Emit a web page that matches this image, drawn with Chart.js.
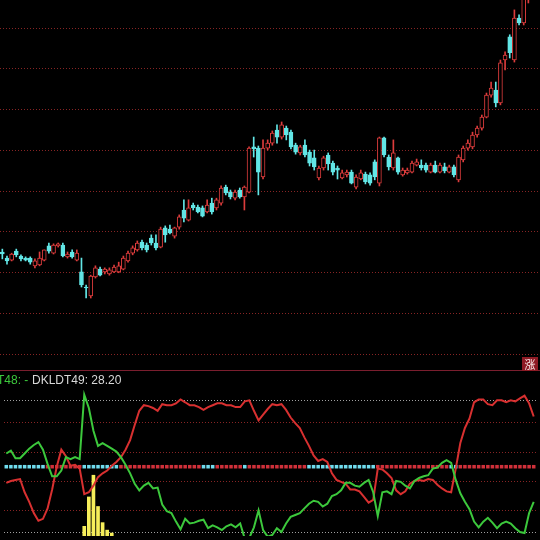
<!DOCTYPE html>
<html lang="zh">
<head>
<meta charset="UTF-8">
<title>K线 + DKLDT</title>
<script src="https://cdn.jsdelivr.net/npm/chart.js"></script>
<style>
    html, body { margin: 0; padding: 0; background: #000; }
    body { width: 540px; height: 540px; position: relative; overflow: hidden; font-family: "Liberation Sans", Arial, sans-serif; }
    #priceChart { position: absolute; left: 0; top: 0; }
    #indChart { position: absolute; left: 0; top: 372px; }
    /* panel separator */
    .sep { position: absolute; left: 0; top: 370px; width: 540px; height: 1px; background: #7a1e2e; }
    .lbl { position: absolute; top: 373px; font-size: 12px; white-space: nowrap; line-height: 14px; }
    .zhang { position: absolute; left: 522px; top: 357px; width: 16px; height: 14px; background: #8e1a24; color: #fff0f0;
             font: 11px "Noto Sans CJK SC", sans-serif; line-height: 14px; text-align: center; }
</style>
</head>
<body>
<canvas id="priceChart" width="540" height="371"></canvas>
<div class="sep"></div>
<div class="zhang">涨</div>
<canvas id="indChart" width="540" height="168"></canvas>
<div class="lbl" style="left:-3px;color:#3cc83c">T48: -</div>
<div class="lbl" style="left:32px;color:#d8d8d8">DKLDT49: 28.20</div>

<script>
// ---- data ----
const days = Array.from({ length: 116 }, (_, i) => 'D' + (i + 1));

const open = [13.51,13.36,13.31,13.53,13.41,13.36,13.36,13.17,13.19,13.31,
    13.66,13.48,13.66,13.68,13.39,13.51,13.31,13.02,12.65,12.43,
    12.90,13.09,13.02,12.97,13.02,13.02,13.09,13.29,13.48,13.56,
    13.75,13.68,13.85,13.73,13.63,14.10,14.07,13.90,14.12,14.54,
    14.29,14.66,14.61,14.59,14.49,14.71,14.59,14.71,15.10,14.98,
    14.83,15.03,14.86,14.98,16.09,16.06,15.35,16.06,16.18,16.50,
    16.33,16.55,16.45,16.13,15.94,16.13,15.96,15.82,15.33,15.57,
    15.89,15.69,15.57,15.33,15.40,15.47,15.10,15.30,15.42,15.40,
    15.72,15.20,16.31,15.84,15.57,15.82,15.40,15.45,15.47,15.64,
    15.64,15.64,15.47,15.64,15.47,15.60,15.47,15.60,15.28,15.77,
    16.06,16.09,16.38,16.55,16.82,17.36,17.48,17.17,18.22,18.79,
    18.22,19.25,19.13,19.75,19.95,20.30];
const high = [13.58,13.41,13.48,13.58,13.44,13.39,13.39,13.34,13.51,13.56,
    13.73,13.71,13.73,13.73,13.51,13.56,13.56,13.36,12.70,12.94,
    13.17,13.14,13.12,13.12,13.19,13.26,13.41,13.53,13.66,13.78,
    13.80,13.73,13.93,13.93,14.12,14.15,14.17,14.12,14.42,14.79,
    14.79,14.71,14.66,14.64,14.79,14.83,14.83,15.13,15.15,15.03,
    15.03,15.08,15.13,16.09,16.33,16.11,16.26,16.26,16.48,16.63,
    16.70,16.60,16.50,16.18,16.13,16.26,16.01,16.01,15.62,15.86,
    15.94,15.74,15.62,15.52,15.52,15.52,15.40,15.52,15.47,15.45,
    15.77,16.33,16.33,15.89,16.26,15.84,15.57,15.57,15.74,15.79,
    15.77,15.69,15.69,15.74,15.69,15.69,15.64,15.64,15.89,16.11,
    16.26,16.45,16.60,16.87,17.41,17.68,17.68,18.22,18.42,18.84,
    19.45,19.33,19.90,20.10,20.40,20.50];
const low = [13.34,13.21,13.29,13.39,13.29,13.29,13.21,13.12,13.17,13.29,
    13.48,13.46,13.63,13.39,13.36,13.36,13.29,12.65,12.38,12.38,
    12.87,12.92,12.97,12.94,13.00,13.00,13.07,13.26,13.44,13.53,
    13.56,13.51,13.68,13.56,13.61,13.75,13.95,13.85,14.07,14.25,
    14.27,14.54,14.47,14.37,14.47,14.44,14.54,14.66,14.91,14.81,
    14.79,14.83,14.54,14.96,15.84,14.91,15.30,16.01,16.13,16.18,
    16.28,16.26,16.04,15.91,15.89,15.84,15.62,15.52,15.28,15.52,
    15.52,15.40,15.30,15.30,15.35,15.18,15.06,15.28,15.18,15.15,
    15.28,15.13,15.84,15.52,15.52,15.42,15.37,15.42,15.45,15.62,
    15.52,15.47,15.45,15.45,15.45,15.45,15.45,15.35,15.23,15.72,
    16.01,16.04,16.33,16.50,16.80,17.31,17.07,17.12,17.98,18.27,
    18.17,19.08,19.08,19.62,19.90,20.00];
const close = [13.46,13.29,13.46,13.44,13.34,13.31,13.26,13.29,13.36,13.56,
    13.53,13.68,13.71,13.41,13.46,13.39,13.48,12.70,12.63,12.92,
    13.12,12.94,13.09,13.07,13.14,13.17,13.36,13.48,13.61,13.73,
    13.61,13.56,13.73,13.61,14.07,13.93,13.98,14.10,14.37,14.34,
    14.59,14.59,14.49,14.39,14.66,14.49,14.79,15.08,14.96,14.86,
    14.98,14.86,15.10,16.06,16.04,15.47,16.06,16.18,16.43,16.33,
    16.63,16.38,16.09,15.96,16.09,15.89,15.69,15.60,15.57,15.82,
    15.67,15.47,15.52,15.45,15.47,15.20,15.35,15.45,15.23,15.20,
    15.35,16.31,15.89,15.60,15.94,15.47,15.52,15.52,15.69,15.72,
    15.57,15.52,15.64,15.47,15.64,15.50,15.60,15.40,15.84,16.06,
    16.18,16.38,16.55,16.82,17.36,17.53,17.17,18.15,18.34,18.40,
    19.25,19.13,19.80,20.00,20.30,20.10];
const priceTicks = [11, 12, 13, 14, 15, 16, 17, 18, 19];

// indicator panel
const redLine = [39.0,40.3,41.0,41.6,32.6,26.1,18.4,13.2,14.5,21.6,
    34.5,50.0,61.6,57.1,50.6,51.3,48.7,31.3,32.6,37.1,
    42.9,45.5,47.4,50.6,53.2,56.5,61.6,68.1,78.4,88.1,
    91.9,91.3,90.0,88.1,92.6,91.9,91.9,93.2,95.8,93.9,
    91.9,91.9,90.6,88.7,90.6,91.9,93.2,93.2,91.9,91.9,
    90.6,90.6,94.5,95.2,88.1,81.6,85.5,89.3,92.6,91.9,
    92.6,88.7,83.5,79.7,76.4,70.0,64.2,57.7,53.9,55.2,
    53.2,45.5,41.0,39.7,38.4,34.5,34.5,33.2,29.4,25.5,
    27.4,48.7,48.1,45.5,42.3,33.9,31.3,33.2,38.4,40.3,
    41.0,40.3,41.6,41.0,37.7,35.2,33.2,32.6,48.7,66.1,
    76.4,82.9,93.9,95.8,95.8,92.6,91.9,95.2,95.2,93.9,
    95.2,94.5,96.5,98.4,93.2,84.2];
const greenLine = [59.0,61.0,55.8,55.8,59.0,62.3,64.8,66.8,61.6,51.9,
    43.5,43.5,47.4,56.5,55.2,56.5,55.2,99.0,90.0,74.5,
    64.2,66.1,64.2,62.3,60.3,56.5,51.3,45.5,38.4,33.9,
    37.1,39.0,35.2,35.8,24.2,19.7,18.4,12.6,7.4,14.5,
    11.3,11.9,13.2,13.9,8.1,10.0,8.7,6.8,9.4,10.7,
    8.7,11.3,1.0,1.6,8.7,20.3,6.8,2.3,3.5,8.1,
    5.5,11.3,15.8,17.1,18.4,21.6,24.8,26.8,26.1,22.9,
    24.8,30.0,31.3,33.9,39.0,39.0,37.1,36.4,39.0,41.0,
    32.6,16.5,32.6,33.2,31.3,40.3,39.7,37.1,35.2,40.3,
    42.3,43.5,44.2,48.7,49.4,52.6,54.5,52.6,41.0,31.9,
    26.1,21.0,12.6,8.7,12.6,15.2,11.9,8.1,11.3,12.6,
    11.3,8.1,5.5,4.8,18.4,26.1];
const barStart = 17;
const yellowBars = [9.4, 29.4, 44.2, 22.9, 11.9, 6.8, 4.8];
// 1 = cyan square, 0 = red square on the middle line
const trendFlag = [1,1,1,1,1,1,1,1,1,0, 0,0,0,0,0,0,0,1,1,1,
    1,1,1,1,1,0,0,0,0,0, 0,0,0,0,0,0,0,0,0,0,
    0,0,0,1,1,1,0,0,0,0, 0,0,1,0,0,0,0,0,0,0,
    0,0,0,0,0,0,1,1,1,1, 1,1,1,1,1,1,1,1,1,1,
    1,0,0,0,0,0,0,0,0,0, 0,0,0,0,0,0,0,1,1,0,
    0,0,0,0,0,0,0,0,0,0, 0,0,0,0,0,0];
const midLevel = 50;
const indTicks = [5, 20, 40, 60, 80, 95];

// ---- colours ----
const UP = '#dc3c3c', DOWN = '#62e6e6';
const GRID_RED = 'rgba(150,40,40,0.9)';

const isUp = close.map((c, i) => c >= open[i]);

new Chart(document.getElementById('priceChart'), {
    type: 'bar',
    data: {
        labels: days,
        datasets: [
            { // wicks
                data: low.map((l, i) => [l, high[i]]),
                backgroundColor: isUp.map(u => u ? UP : DOWN),
                barThickness: 1, grouped: false, order: 2
            },
            { // bodies, hollow when rising
                data: open.map((o, i) => [o, close[i]]),
                backgroundColor: isUp.map(u => u ? '#000' : DOWN),
                borderColor: isUp.map(u => u ? UP : DOWN),
                borderWidth: 1, borderSkipped: false,
                barThickness: 4, grouped: false, order: 1
            }
        ]
    },
    options: {
        responsive: false, animation: false, events: [],
        layout: { padding: 0 },
        plugins: { legend: { display: false }, tooltip: { enabled: false } },
        scales: {
            x: { display: false },
            y: {
                min: 10.589, max: 19.693,
                afterBuildTicks: s => { s.ticks = priceTicks.map(v => ({ value: v })); },
                ticks: { display: false },
                grid: { color: GRID_RED, drawTicks: false, lineWidth: 1 },
                border: { display: false, dash: [1, 2] }
            }
        }
    }
});

const volData = days.map((_, i) => {
    const k = i - barStart;
    return k >= 0 && k < yellowBars.length ? yellowBars[k] : null;
});

new Chart(document.getElementById('indChart'), {
    type: 'bar',
    data: {
        labels: days,
        datasets: [
            {
                type: 'line', data: days.map(() => midLevel), showLine: false,
                pointStyle: 'rect', pointRadius: 2.5, borderWidth: 0, pointBorderWidth: 0,
                pointBackgroundColor: trendFlag.map(f => f ? '#70dcee' : '#d0303a'),
                order: 4
            },
            { data: volData, backgroundColor: '#f6ee5a', barThickness: 3, order: 3 },
            { type: 'line', data: redLine, borderColor: '#d83030', borderWidth: 2, pointRadius: 0, order: 2 },
            { type: 'line', data: greenLine, borderColor: '#3cc83c', borderWidth: 2, pointRadius: 0, order: 1 }
        ]
    },
    options: {
        responsive: false, animation: false, events: [],
        layout: { padding: 0 },
        plugins: { legend: { display: false }, tooltip: { enabled: false } },
        scales: {
            x: { display: false },
            y: {
                min: 2.8, max: 111.8,
                afterBuildTicks: s => { s.ticks = indTicks.map(v => ({ value: v })); },
                ticks: { display: false },
                grid: {
                    color: c => (c.tick.value === 5 || c.tick.value === 95) ? '#a0a0a0' : GRID_RED,
                    drawTicks: false, lineWidth: 1
                },
                border: { display: false, dash: [1, 2] }
            }
        }
    }
});
</script>
</body>
</html>
